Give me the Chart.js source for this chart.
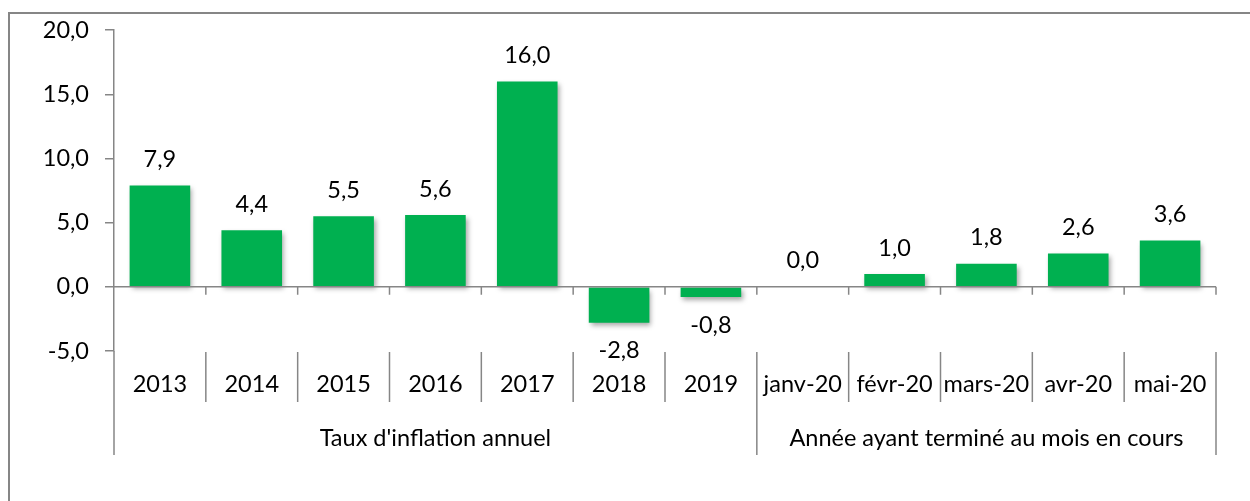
<!DOCTYPE html>
<html>
<head>
<meta charset="utf-8">
<script src="https://cdn.jsdelivr.net/npm/chart.js@4"></script>
<style>
  html, body { margin: 0; padding: 0; background: #fff; }
  #wrap { position: relative; width: 1250px; height: 501px; }
</style>
</head>
<body>
<div id="wrap"><canvas id="c" width="1250" height="501"></canvas></div>
<script>
// categories and their group (multi-level axis)
const labels = ["2013", "2014", "2015", "2016", "2017", "2018", "2019",
                "janv-20", "févr-20", "mars-20", "avr-20", "mai-20"];
const values = [7.9, 4.4, 5.5, 5.6, 16.0, -2.8, -0.8, 0.0, 1.0, 1.8, 2.6, 3.6];
const groups = [
  { label: "Taux d'inflation annuel", from: 0, to: 6 },
  { label: "Année ayant terminé au mois en cours", from: 7, to: 11 },
];
const yTicks = [-5, 0, 5, 10, 15, 20];

const GREEN = "#00B050", LINE = "#868686";
const FONT = "Lato, 'Open Sans', sans-serif";
const FS = 23.5;
const fmt = v => v.toFixed(1).replace(".", ",");

// bar shadow like the Excel original
const shadow = {
  id: "shadow",
  beforeDatasetDraw(chart) {
    const c = chart.ctx; c.save();
    c.shadowColor = "rgba(0,0,0,0.35)"; c.shadowBlur = 5;
    c.shadowOffsetX = 2; c.shadowOffsetY = 3;
  },
  afterDatasetDraw(chart) { chart.ctx.restore(); },
};

// outer frame, zero axis, multi-level category axis, value labels
const deco = {
  id: "deco",
  afterDraw(chart) {
    const c = chart.ctx, x = chart.scales.x, y = chart.scales.y;
    const y0 = y.getPixelForValue(0), yb = y.getPixelForValue(-5);
    const edge = i => x.getPixelForValue(i) - (x.getPixelForValue(1) - x.getPixelForValue(0)) / 2;
    const right = edge(labels.length);
    c.save();
    c.strokeStyle = LINE; c.lineWidth = 2;
    c.strokeRect(9, 13, 1300, 600);
    c.lineWidth = 1.5;
    c.beginPath();
    // zero line + tick marks
    c.moveTo(x.left, y0); c.lineTo(right, y0);
    for (let i = 1; i <= labels.length; i++) { c.moveTo(edge(i), y0); c.lineTo(edge(i), y0 + 8); }
    // y axis extends down through the label rows
    c.moveTo(x.left, yb); c.lineTo(x.left, yb + 104);
    // category separators
    for (let i = 1; i <= labels.length; i++) {
      const isGroupEdge = groups.some(g => g.to + 1 === i);
      c.moveTo(edge(i), yb + 1); c.lineTo(edge(i), yb + (isGroupEdge ? 104 : 51));
    }
    c.stroke();
    c.fillStyle = "#000"; c.font = FS + "px " + FONT;
    c.textAlign = "center"; c.textBaseline = "middle";
    labels.forEach((l, i) => c.fillText(l, x.getPixelForValue(i), yb + 33));
    groups.forEach(g => c.fillText(g.label, (edge(g.from) + edge(g.to + 1)) / 2, yb + 87));
    // data labels
    values.forEach((v, i) => {
      const py = y.getPixelForValue(v);
      c.fillText(fmt(v), x.getPixelForValue(i), v < 0 ? py + 28 : py - 26);
    });
    c.restore();
  },
};

new Chart(document.getElementById("c"), {
  type: "bar",
  data: {
    labels,
    datasets: [{ data: values, backgroundColor: GREEN, borderWidth: 0,
                 barPercentage: 0.66, categoryPercentage: 1 }],
  },
  options: {
    responsive: false, animation: false,
    layout: { padding: { top: 29, right: 34, bottom: 150, left: 0 } },
    plugins: { legend: { display: false }, tooltip: { enabled: false } },
    scales: {
      x: { display: false },
      y: {
        min: -5, max: 20,
        afterBuildTicks: s => { s.ticks = yTicks.map(v => ({ value: v })); },
        afterFit: s => { s.width = 114; },
        ticks: { color: "#000", font: { size: FS, family: FONT }, padding: 16,
                 callback: v => fmt(v) },
        grid: { drawOnChartArea: false, drawTicks: true, tickLength: 9, color: LINE, lineWidth: 1.5 },
        border: { display: true, color: LINE, width: 1.5 },
      },
    },
  },
  plugins: [shadow, deco],
});
</script>
</body>
</html>
